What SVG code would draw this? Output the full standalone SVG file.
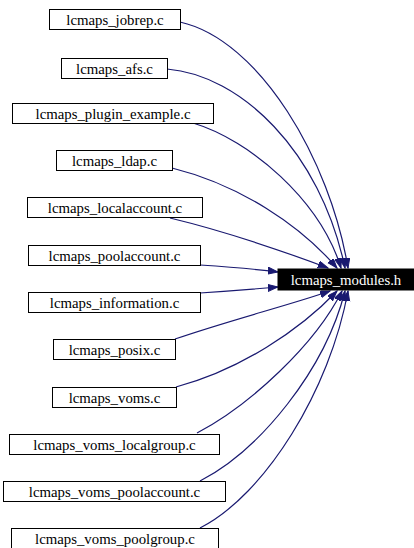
<svg xmlns="http://www.w3.org/2000/svg" width="414" height="548" viewBox="0 0 414 548">
<style>
.n rect{fill:#fff;stroke:#000;stroke-width:1}
.n text{font-family:"Liberation Serif",serif;font-size:14.8px;text-anchor:middle;fill:#000}
.m rect{fill:#000;stroke:#000}
.m text{font-family:"Liberation Serif",serif;font-size:14.8px;text-anchor:middle;fill:#fff}
.e path{fill:none;stroke:#191970;stroke-width:1.2;marker-end:url(#ah)}
</style>
<defs>
<marker id="ah" markerUnits="userSpaceOnUse" markerWidth="11" markerHeight="8" refX="10" refY="3.5" orient="auto">
<path d="M0,0 L10,3.5 L0,7 z" fill="#191970" stroke="#191970"/>
</marker>
</defs>
<g class="e" id="edges">
<path d="M180,22 C260,40 330,160 348,268"/>
<path d="M167,69 C240,75 320,150 345,268"/>
<path d="M193,123 C250,140 320,200 341,268"/>
<path d="M172,168 C240,185 300,225 337,268"/>
<path d="M170,218 C220,230 280,250 328,268"/>
<path d="M200,265 C230,267 255,269 278,272"/>
<path d="M200,293 C230,291 255,289 278,287"/>
<path d="M175,339 C230,320 290,305 330,291"/>
<path d="M176,387 C240,370 300,330 337,291"/>
<path d="M197,433 C250,405 315,345 342,291"/>
<path d="M200,481 C260,450 325,370 345,291"/>
<path d="M200,528 C265,495 330,390 348,291"/>
</g>
<g class="m" id="lcmaps_modules_h"><rect x="278" y="269" width="136" height="21"/><text x="346" y="284.5">lcmaps_modules.h</text></g>
<g class="n" id="lcmaps_jobrep_c"><rect x="49.5" y="9.5" width="131" height="20"/><text x="115" y="24.5">lcmaps_jobrep.c</text></g>
<g class="n" id="lcmaps_afs_c"><rect x="61.5" y="58.5" width="106" height="20"/><text x="114.5" y="73.5">lcmaps_afs.c</text></g>
<g class="n" id="lcmaps_plugin_example_c"><rect x="12.5" y="103.5" width="201" height="20"/><text x="113" y="118.5">lcmaps_plugin_example.c</text></g>
<g class="n" id="lcmaps_ldap_c"><rect x="56.5" y="150.5" width="116" height="20"/><text x="114.5" y="165.5">lcmaps_ldap.c</text></g>
<g class="n" id="lcmaps_localaccount_c"><rect x="27.5" y="197.5" width="175" height="20"/><text x="115" y="212.5">lcmaps_localaccount.c</text></g>
<g class="n" id="lcmaps_poolaccount_c"><rect x="28.5" y="245.5" width="172" height="20"/><text x="114.5" y="260.5">lcmaps_poolaccount.c</text></g>
<g class="n" id="lcmaps_information_c"><rect x="28.5" y="292.5" width="172" height="20"/><text x="114.5" y="307.5">lcmaps_information.c</text></g>
<g class="n" id="lcmaps_posix_c"><rect x="53.5" y="339.5" width="122" height="20"/><text x="114.5" y="354.5">lcmaps_posix.c</text></g>
<g class="n" id="lcmaps_voms_c"><rect x="52.5" y="387.5" width="124" height="20"/><text x="114.5" y="402.5">lcmaps_voms.c</text></g>
<g class="n" id="lcmaps_voms_localgroup_c"><rect x="9.5" y="434.5" width="210" height="20"/><text x="114.5" y="449.5">lcmaps_voms_localgroup.c</text></g>
<g class="n" id="lcmaps_voms_poolaccount_c"><rect x="3.5" y="481.5" width="222" height="20"/><text x="114.5" y="496.5">lcmaps_voms_poolaccount.c</text></g>
<g class="n" id="lcmaps_voms_poolgroup_c"><rect x="11.5" y="528.5" width="207" height="20"/><text x="115" y="543.5">lcmaps_voms_poolgroup.c</text></g>
</svg>
